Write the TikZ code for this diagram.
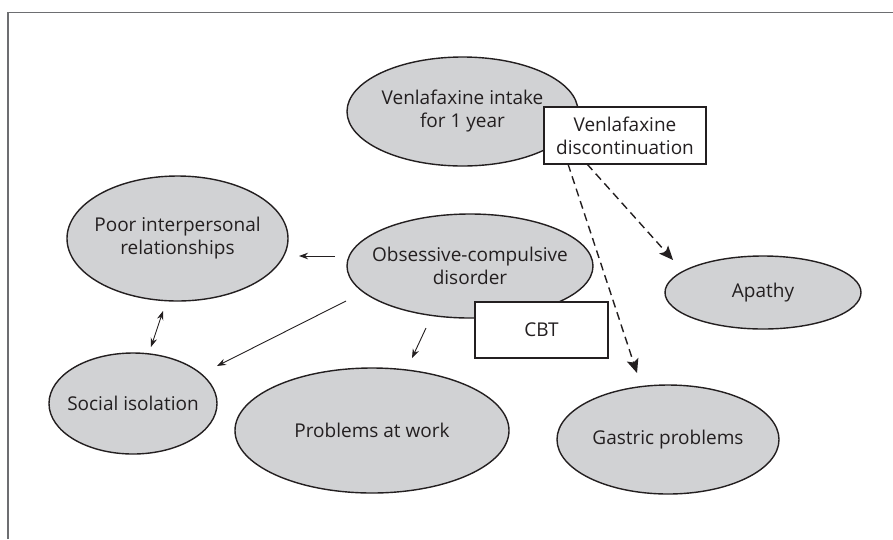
\documentclass[tikz,border=0pt]{standalone}
\usepackage{fontspec}
\setmainfont{Open Sans}
\usetikzlibrary{shapes.geometric,arrows.meta}
\definecolor{ellfill}{HTML}{D1D2D4}
\definecolor{ink}{HTML}{231F20}
\definecolor{framecol}{HTML}{6D6E71}
\begin{document}
\begin{tikzpicture}[x=1pt,y=-1pt,
  every node/.style={font=\fontsize{19}{23}\selectfont, text=ink},
  ell/.style={ellipse, draw=ink, line width=1.4pt, fill=ellfill, inner sep=0pt},
  etext/.style={align=center, inner sep=0pt},
  rbox/.style={rectangle, draw=ink, line width=1.4pt, fill=white, inner sep=0pt, align=center},
  solidarrow/.style={draw=ink, line width=0.9pt, -{Stealth[length=9pt,width=6.5pt]}},
  dbarrow/.style={draw=ink, line width=0.9pt, {Stealth[length=9pt,width=6.5pt]}-{Stealth[length=9pt,width=6.5pt]}},
  dasharrow/.style={draw=ink, line width=1.4pt, dash pattern=on 8pt off 5pt, -{Stealth[length=14pt,width=12pt,inset=3pt]}}
]
\useasboundingbox (0,0) rectangle (893,539);
\draw[framecol, line width=1.6pt] (8,539) -- (8,12.5) -- (893,12.5);

\node[ell, minimum width=231pt, minimum height=109pt] (ven) at (462.5,111.5) {};
\node[etext] (ventext) at (ven.center) {Venlafaxine intake\\for 1 year};
\node[rbox, minimum width=162pt, minimum height=57pt] (disc) at (625,135.5) {Venlafaxine\\discontinuation};

\node[ell, minimum width=221pt, minimum height=125pt] (poor) at (177.5,238.5) {};
\node[etext] (poortext) at (poor.center) {Poor interpersonal\\relationships};
\node[ell, minimum width=246pt, minimum height=104pt] (ocd) at (470,266) {};
\node[etext] (ocdtext) at (ocd.center) {Obsessive-compulsive\\disorder};
\node[rbox, minimum width=133pt, minimum height=56pt] (cbt) at (541.5,330) {CBT};

\node[ell, minimum width=196pt, minimum height=73pt] (apathy) at (763,292.5) {};
\node[etext] (apathytext) at (apathy.center) {Apathy};
\node[ell, minimum width=168pt, minimum height=101pt] (social) at (133,403.5) {};
\node[etext] (socialtext) at (social.center) {Social isolation};
\node[ell, minimum width=274pt, minimum height=125pt] (work) at (372,430.5) {};
\node[etext] (worktext) at (work.center) {Problems at work};
\node[ell, minimum width=222pt, minimum height=109pt] (gastric) at (668,439.5) {};
\node[etext] (gastrictext) at (gastric.center) {Gastric problems};

\coordinate (a1s) at (335,256);
\coordinate (a1e) at (299,256);
\coordinate (a2s) at (163,311);
\coordinate (a2e) at (151,347);
\coordinate (a3s) at (346,301);
\coordinate (a3e) at (217,366);
\coordinate (a4s) at (426,328);
\coordinate (a4e) at (412,358);
\coordinate (d1s) at (587,164);
\coordinate (d1e) at (673,260);
\coordinate (d2s) at (568,164);
\coordinate (d2e) at (637,373);

\draw[solidarrow] (a1s) -- (a1e);
\draw[dbarrow] (a2s) -- (a2e);
\draw[solidarrow] (a3s) -- (a3e);
\draw[solidarrow] (a4s) -- (a4e);
\draw[dasharrow] (d1s) -- (d1e);
\draw[dasharrow] (d2s) -- (d2e);
\end{tikzpicture}
\end{document}
